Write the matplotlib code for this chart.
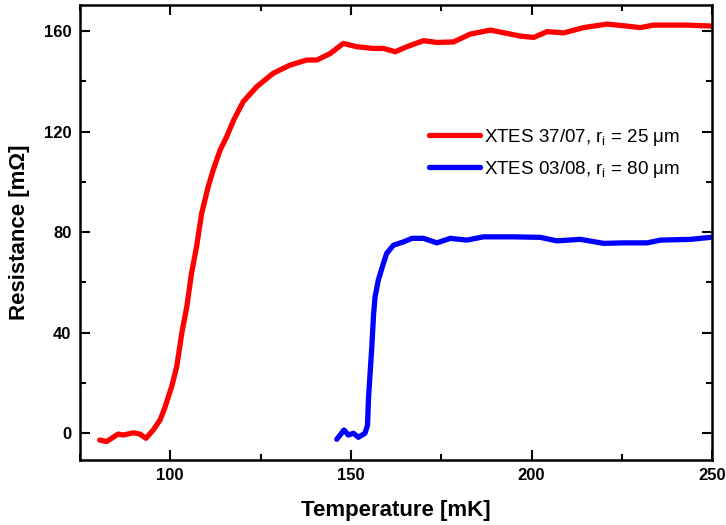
import numpy as np
import matplotlib
matplotlib.use("Agg")
import matplotlib.pyplot as plt
from matplotlib.ticker import MultipleLocator

plt.rcParams['font.family'] = ['Liberation Sans', 'DejaVu Sans']
plt.rcParams['mathtext.fontset'] = 'custom'
plt.rcParams['mathtext.rm'] = 'Liberation Sans'
plt.rcParams['mathtext.it'] = 'Liberation Sans:italic'

# XTES 37/07 (red)
t_red = [80.5, 82.4, 85.6, 87.0, 89.8, 91.6, 93.3, 95.3, 97.2, 98.5, 99.5, 100.4, 101.8,
         103.2, 104.6, 105.9, 107.3, 108.7, 110.5, 111.9, 113.8, 115.6, 117.7, 120.2,
         123.9, 128.5, 133.2, 137.8, 140.6, 144.3, 147.9, 151.6, 156.2, 159.0, 162.3,
         165.5, 170.1, 173.8, 178.4, 183.0, 188.6, 193.2, 197.0, 200.6, 204.3, 208.9,
         214.4, 220.9, 226.4, 230.1, 233.8, 243.0, 250.0]
r_red = [-2.8, -3.4, -0.4, -0.8, 0.1, -0.4, -2.1, 1.2, 5.2, 10.0, 14.5, 18.4, 26.4,
         39.7, 50.3, 63.6, 74.2, 87.4, 98.0, 104.7, 112.6, 117.9, 125.0, 131.9,
         137.8, 143.2, 146.5, 148.5, 148.5, 151.1, 155.1, 153.8, 153.1, 153.1, 151.8,
         153.8, 156.2, 155.5, 155.7, 158.8, 160.4, 159.1, 158.0, 157.5, 159.8, 159.3,
         161.4, 162.8, 162.0, 161.4, 162.4, 162.4, 162.0]

# XTES 03/08 (blue)
t_blue = [146.1, 148.1, 149.3, 150.7, 152.1, 153.9, 154.6, 154.9, 155.8, 156.3, 156.7,
          157.6, 159.0, 159.9, 161.8, 164.6, 166.9, 170.1, 173.8, 177.5, 182.1, 186.7,
          195.0, 202.4, 207.0, 213.5, 220.0, 225.5, 232.0, 235.7, 244.0, 249.5]
r_blue = [-2.5, 1.2, -0.8, -0.1, -1.7, -0.1, 3.0, 14.5, 34.3, 47.6, 54.2,
          60.9, 67.5, 71.5, 74.8, 76.1, 77.5, 77.5, 75.7, 77.5, 76.8, 78.1,
          78.1, 77.9, 76.5, 77.1, 75.5, 75.7, 75.7, 76.8, 77.1, 77.9]

labels = [r'XTES 37/07, r$_\mathrm{i}$ = 25 $\mathrm{\mu}$m',
          r'XTES 03/08, r$_\mathrm{i}$ = 80 $\mathrm{\mu}$m']

fig = plt.figure(figsize=(7.26, 5.25), dpi=100)
ax = fig.add_axes([0.110, 0.124, 0.871, 0.866])

ax.plot(t_red, r_red, color='#ff0000', lw=3.8, label=labels[0], solid_capstyle='round')
ax.plot(t_blue, r_blue, color='#0000ff', lw=3.8, label=labels[1], solid_capstyle='round')

ax.set_xlim(75, 250)
ax.set_ylim(-10.7, 170.3)
ax.xaxis.set_major_locator(MultipleLocator(50))
ax.xaxis.set_minor_locator(MultipleLocator(25))
ax.yaxis.set_major_locator(MultipleLocator(40))
ax.yaxis.set_minor_locator(MultipleLocator(20))
ax.tick_params(which='both', direction='in', top=True, right=True, width=1.5)
ax.tick_params(which='major', length=7, labelsize=12, pad=6)
ax.tick_params(which='minor', length=4)
for lab in ax.get_xticklabels() + ax.get_yticklabels():
    lab.set_fontweight('bold')
for s in ax.spines.values():
    s.set_linewidth(1.8)

ax.set_xlabel('Temperature [mK]', fontsize=16, fontweight='bold', labelpad=12)
ax.set_ylabel('Resistance [m\u03a9]', fontsize=16, fontweight='bold', labelpad=10)

ax.legend(loc='upper right', bbox_to_anchor=(0.975, 0.77), frameon=False, fontsize=13.5,
          handlelength=2.7, handletextpad=0.2, labelspacing=0.6)

fig.savefig('out.png', dpi=100)
